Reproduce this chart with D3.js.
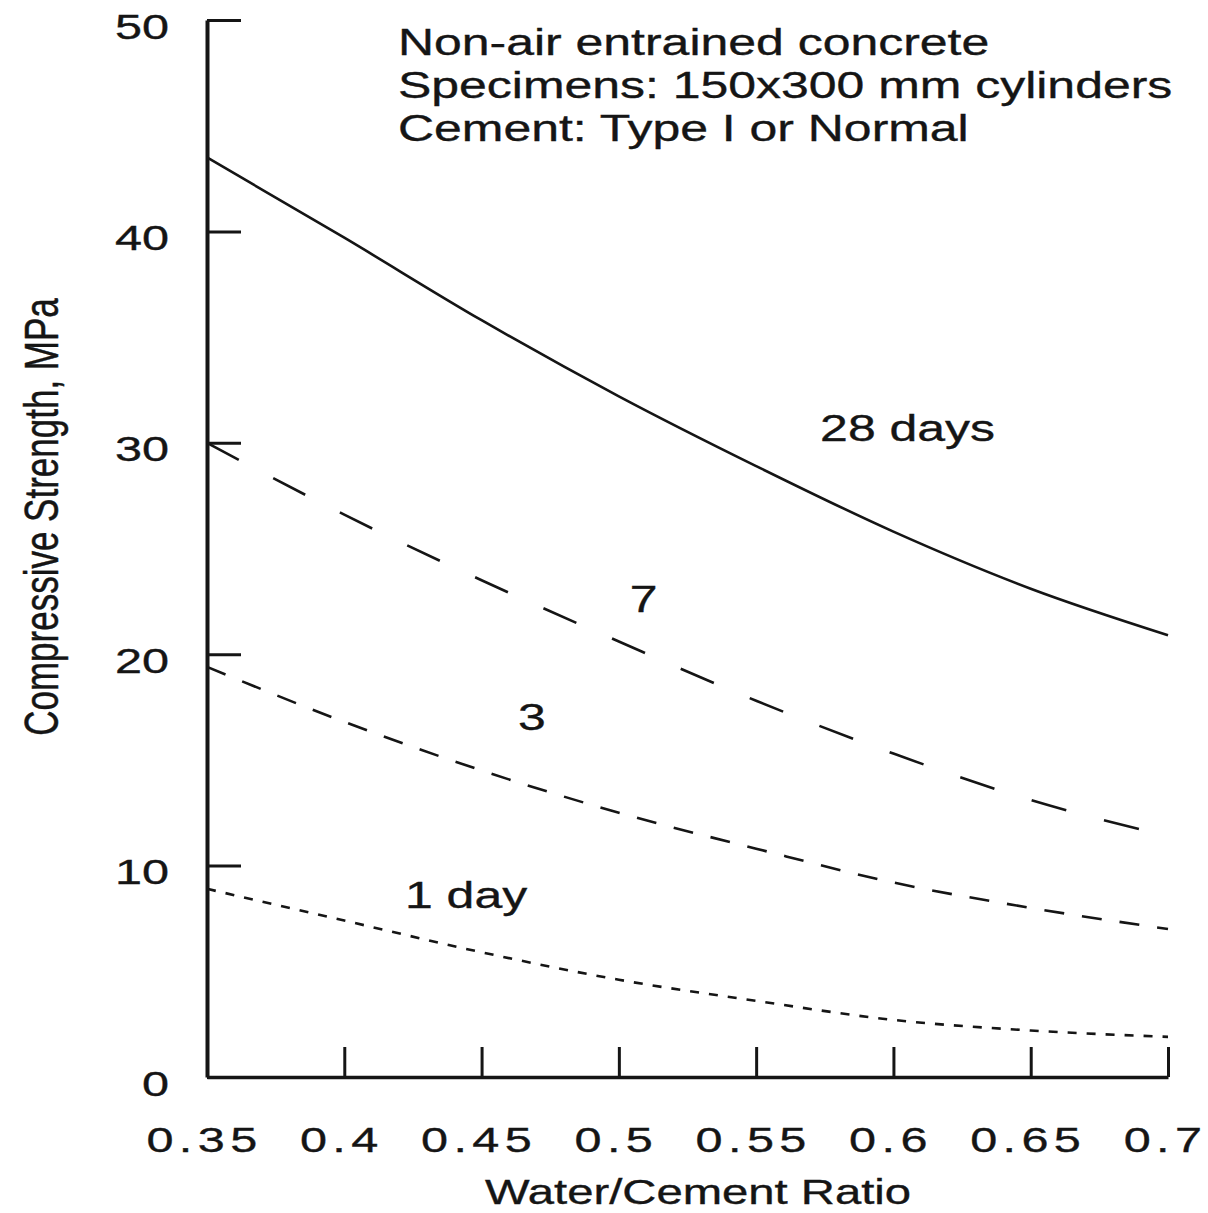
<!DOCTYPE html>
<html>
<head>
<meta charset="utf-8">
<script src="https://cdn.jsdelivr.net/npm/d3@7"></script>
<style>
  html, body { margin: 0; padding: 0; background: #fff; }
  svg { display: block; }
  svg text { stroke: #151515; stroke-width: 0.35px; }
</style>
</head>
<body>
<svg id="chart" width="1208" height="1213"></svg>
<script>
// water/cement ratio samples
const ratios = [0.35, 0.40, 0.45, 0.50, 0.55, 0.60, 0.65, 0.70];

// compressive strength (MPa)
const day28 = [43.5, 39.7, 35.8, 32.2, 28.9, 25.8, 23.1, 20.9];
const day7 = [30.0, 26.6, 23.5, 20.6, 17.8, 15.3, 13.1, 11.4];
const day3 = [19.4, 16.8, 14.5, 12.5, 10.8, 9.2, 8.0, 7.0];
const day1 = [8.9, 7.4, 5.9, 4.6, 3.6, 2.7, 2.2, 1.9];

const xTicks = [0.35, 0.40, 0.45, 0.50, 0.55, 0.60, 0.65, 0.70];
const xTickLabels = ['0.35', '0.4', '0.45', '0.5', '0.55', '0.6', '0.65', '0.7'];
const yTicks = [0, 10, 20, 30, 40, 50];

const notes = [
  'Non-air entrained concrete',
  'Specimens: 150x300 mm cylinders',
  'Cement: Type I or Normal'
];

const series = [
  { name: '28 days', values: day28, dash: null },
  { name: '7', values: day7, dash: '36,39' },
  { name: '3', values: day3, dash: '20,18' },
  { name: '1 day', values: day1, dash: '9,10' }
];

// curve labels, placed in data units
const curveLabels = [
  { text: '28 days', ratio: 0.5733, mpa: 30.1 },
  { text: '7', ratio: 0.504, mpa: 22.0 },
  { text: '3', ratio: 0.4633, mpa: 16.4 },
  { text: '1 day', ratio: 0.4221, mpa: 8.0 }
];

// the source picture is stretched sideways, text included
const SX = 1.35;
const FONT = '"Liberation Sans", Arial, Helvetica, sans-serif';
const INK = '#151515';

const svg = d3.select('#chart');
const margin = { top: 20, right: 40, bottom: 136, left: 207 };
const width = 1208;
const height = 1213;

const x = d3.scaleLinear()
  .domain([0.35, 0.70])
  .range([margin.left, 1168]);

const y = d3.scaleLinear()
  .domain([0, 50])
  .range([height - margin.bottom, margin.top]);

// curves
const line = d3.line()
  .x(d => x(d[0]))
  .y(d => y(d[1]))
  .curve(d3.curveMonotoneX);

series.forEach(s => {
  svg.append('path')
    .datum(ratios.map((r, i) => [r, s.values[i]]))
    .attr('fill', 'none')
    .attr('stroke', INK)
    .attr('stroke-width', 2.6)
    .attr('stroke-dasharray', s.dash)
    .attr('d', line);
});

// y axis, ticks pointing inward
const yAxis = d3.axisLeft(y)
  .tickValues(yTicks)
  .tickSizeInner(-34)
  .tickSizeOuter(0)
  .tickPadding(0)
  .tickFormat(d3.format('d'));

const gy = svg.append('g')
  .attr('transform', `translate(${margin.left},0)`)
  .call(yAxis);

gy.select('.domain').attr('stroke', INK).attr('stroke-width', 4);
gy.selectAll('.tick line').attr('stroke', INK).attr('stroke-width', 3);
gy.selectAll('.tick text')
  .attr('x', 0)
  .attr('y', 0)
  .attr('dy', null)
  .attr('transform', `translate(-38,18) scale(${SX},1)`)
  .attr('text-anchor', 'end')
  .attr('fill', INK)
  .style('font-family', FONT)
  .style('font-size', '36px');

// x axis, ticks pointing up
const xAxis = d3.axisBottom(x)
  .tickValues(xTicks)
  .tickSizeInner(-30)
  .tickSizeOuter(0)
  .tickFormat((d, i) => xTickLabels[i]);

const gx = svg.append('g')
  .attr('transform', `translate(0,${y(0)})`)
  .call(xAxis);

gx.select('.domain').attr('stroke', INK).attr('stroke-width', 3.5);
gx.selectAll('.tick line').attr('stroke', INK).attr('stroke-width', 3);
gx.selectAll('.tick text')
  .attr('x', 0)
  .attr('y', 0)
  .attr('dy', null)
  .attr('transform', `translate(-3,75) scale(${SX},1)`)
  .attr('text-anchor', 'middle')
  .attr('fill', INK)
  .style('letter-spacing', '4px')
  .style('font-family', FONT)
  .style('font-size', '36px');

// axis titles
svg.append('text')
  .attr('transform', `translate(698,1204) scale(${SX},1)`)
  .attr('text-anchor', 'middle')
  .attr('fill', INK)
  .style('font-family', FONT)
  .style('font-size', '35px')
  .text('Water/Cement Ratio');

svg.append('text')
  .attr('transform', `translate(58,517) scale(${SX},1) rotate(-90)`)
  .attr('text-anchor', 'middle')
  .attr('fill', INK)
  .style('font-family', FONT)
  .style('font-size', '35px')
  .text('Compressive Strength, MPa');

// notes block, top right
notes.forEach((t, i) => {
  svg.append('text')
    .attr('transform', `translate(398,${55 + i * 43}) scale(${SX},1)`)
    .attr('fill', INK)
    .style('font-family', FONT)
    .style('font-size', '37px')
    .text(t);
});

curveLabels.forEach(l => {
  svg.append('text')
    .attr('transform', `translate(${x(l.ratio)},${y(l.mpa)}) scale(${SX},1)`)
    .attr('fill', INK)
    .style('font-family', FONT)
    .style('font-size', '37px')
    .text(l.text);
});
</script>
</body>
</html>
